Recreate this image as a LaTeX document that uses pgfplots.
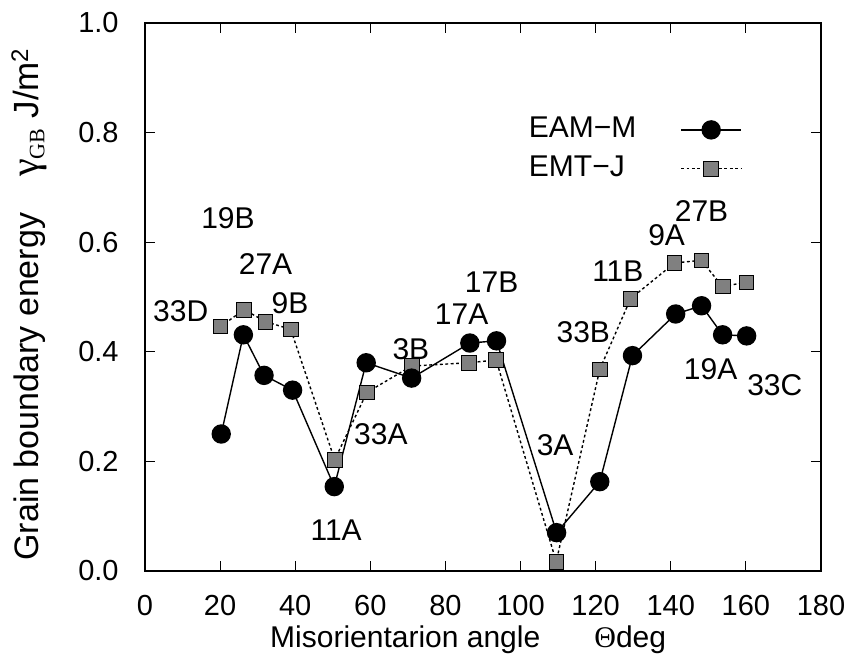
\documentclass[border=0pt]{standalone}
\usepackage{fontspec}
\setmainfont{Liberation Sans}
\newfontfamily\seriffont{Liberation Serif}
\usepackage{pgfplots}
\pgfplotsset{compat=1.18}

% EMT-J energies (J/m^2) against misorientation angle (deg)
\pgfplotstableread{
theta energy
20.1 0.446
26.4 0.477
32.1 0.455
38.8 0.441
50.5 0.203
59.1 0.326
71.0 0.374
86.2 0.380
93.5 0.385
109.5 0.017
121.1 0.368
129.3 0.497
141.0 0.562
148.1 0.567
153.8 0.519
160.1 0.527
}\emtj

% EAM-M energies (J/m^2) against misorientation angle (deg)
\pgfplotstableread{
theta energy
20.3 0.250
26.2 0.431
31.7 0.357
39.3 0.330
50.4 0.154
58.9 0.380
71.0 0.352
86.5 0.416
93.6 0.420
109.6 0.070
121.1 0.163
129.8 0.393
141.3 0.469
148.2 0.484
153.8 0.431
160.2 0.429
}\eamm

\begin{document}
\fontsize{15}{18}\selectfont
\begin{tikzpicture}
\useasboundingbox (-72.5pt,-43.5pt) rectangle (350.5pt,285.5pt);
\begin{axis}[
  at={(0pt,0pt)}, anchor=south west,
  scale only axis, width=338pt, height=274pt,
  xmin=0, xmax=180, ymin=0, ymax=1,
  xtick={0,20,...,180},
  ytick={0,0.2,0.4,0.6,0.8,1.0},
  tick align=inside,
  major tick length=5pt,
  tick style={black, line width=0.6pt},
  axis line style={black, line width=0.8pt},
  /pgf/number format/assume math mode=true,
  ticklabel style={font=\fontsize{14.5}{17}\selectfont},
  yticklabel style={/pgf/number format/fixed,
    /pgf/number format/fixed zerofill,
    /pgf/number format/precision=1, xshift=-8pt},
  xticklabel style={yshift=-7pt},
  xlabel={Misorientarion angle\hspace{1.8em}{\seriffont Θ}deg},
  xlabel style={at={(axis description cs:0.478,-0.1259)}, anchor=center,
    font=\fontsize{15}{18}\selectfont},
  ylabel={Grain boundary energy\hspace{18pt}{\seriffont\fontsize{20}{20}\selectfont γ}\raisebox{-0.3ex}{\fontsize{11}{11}\selectfont\seriffont GB}\hspace{0.3em}{\fontsize{17.5}{20}\selectfont J/m}\raisebox{0.6ex}{\fontsize{12}{12}\selectfont 2}},
  ylabel style={at={(axis description cs:-0.171,0.0)}, anchor=west,
    font=\fontsize{17}{20}\selectfont},
  reverse legend,
  legend plot pos=right,
  legend cell align=left,
  legend image code/.code={%
    \draw[mark repeat=2,mark phase=2,#1]
      plot coordinates {(0pt,0pt) (15pt,0pt) (30pt,0pt)};},
  legend style={draw=none, fill=none,
    at={(axis description cs:0.568,0.7696)}, anchor=west,
    inner sep=0pt, outer sep=0pt,
    nodes={inner sep=0pt, anchor=west},
    row sep=6.8pt, column sep=22pt,
    font=\fontsize{15}{18}\selectfont},
]
\addplot[black, line width=0.7pt, dash pattern=on 1.4pt off 1.3pt,
  mark=square*, mark size=3.65pt,
  mark options={solid, fill=black!50, draw=black, line width=0.4pt}]
  table[x=theta, y=energy] {\emtj};
\addlegendentry{EMT−J}
\addplot[black, line width=0.7pt,
  mark=*, mark size=4.5pt, mark options={solid, fill=black}]
  table[x=theta, y=energy] {\eamm};
\addlegendentry{EAM−M}

% boundary labels
\node at (axis cs:22.1,0.643) {19B};
\node at (axis cs:32.1,0.561) {27A};
\node at (axis cs:9.5,0.475) {33D};
\node at (axis cs:38.6,0.489) {9B};
\node at (axis cs:70.8,0.404) {3B};
\node at (axis cs:62.8,0.250) {33A};
\node at (axis cs:50.9,0.075) {11A};
\node at (axis cs:84.3,0.469) {17A};
\node at (axis cs:92.3,0.527) {17B};
\node at (axis cs:109.2,0.230) {3A};
\node at (axis cs:116.7,0.435) {33B};
\node at (axis cs:125.9,0.548) {11B};
\node at (axis cs:138.9,0.612) {9A};
\node at (axis cs:148.2,0.657) {27B};
\node at (axis cs:150.6,0.368) {19A};
\node at (axis cs:167.7,0.340) {33C};
\end{axis}
\end{tikzpicture}
\end{document}
